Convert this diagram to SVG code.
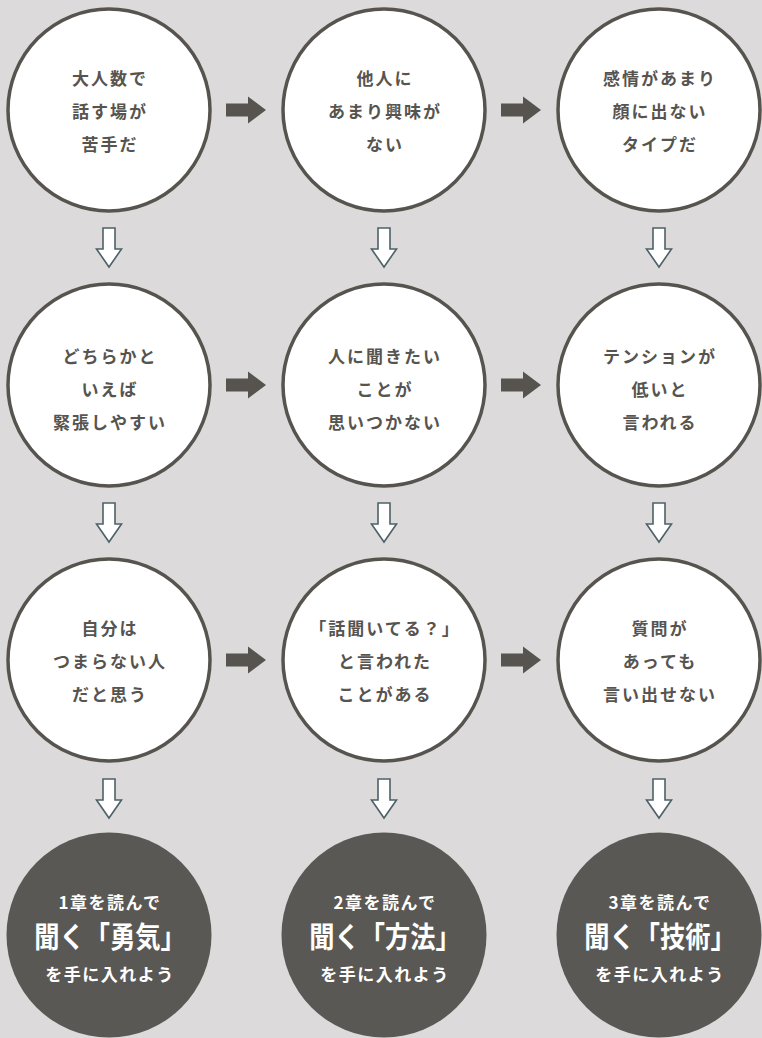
<svg xmlns="http://www.w3.org/2000/svg" width="762" height="1038" viewBox="0 0 762 1038">
<defs>
<style>
.c{fill:#ffffff;stroke:#57544f;stroke-width:3.5}
.d{fill:#5a5854}
.t{font-family:"Noto Sans CJK JP","Noto Sans",sans-serif;font-weight:700;font-size:17px;fill:#57544f;text-anchor:middle;letter-spacing:2px}
.w{font-family:"Noto Sans CJK JP","Noto Sans",sans-serif;font-weight:700;fill:#ffffff;text-anchor:middle}
.s{font-size:17px;letter-spacing:1.5px}
.b{font-size:29px}
.ra{fill:#57544f}
.da{fill:#ffffff;stroke:#4d6268;stroke-width:1.6;stroke-linejoin:miter}
</style>
<path id="rarr" d="M0,-6.5 H22 V-13.5 L40,0 L22,13.5 V6.5 H0 Z"/>
<path id="darr" d="M-6,0 H6 V21 H12.5 L0,39 L-12.5,21 H-6 Z"/>
</defs>
<rect width="762" height="1038" fill="#dcdada"/>
<g id="connectors">
<use href="#rarr" class="ra" x="226" y="110"/>
<use href="#rarr" class="ra" x="501" y="110"/>
<use href="#rarr" class="ra" x="226" y="385"/>
<use href="#rarr" class="ra" x="501" y="385"/>
<use href="#rarr" class="ra" x="226" y="660"/>
<use href="#rarr" class="ra" x="501" y="660"/>
<use href="#darr" class="da" x="109" y="228"/>
<use href="#darr" class="da" x="384" y="228"/>
<use href="#darr" class="da" x="659" y="228"/>
<use href="#darr" class="da" x="109" y="503"/>
<use href="#darr" class="da" x="384" y="503"/>
<use href="#darr" class="da" x="659" y="503"/>
<use href="#darr" class="da" x="109" y="779"/>
<use href="#darr" class="da" x="384" y="779"/>
<use href="#darr" class="da" x="659" y="779"/>
</g>
<g id="n1">
<circle class="c" cx="109" cy="110" r="101"/>
<text class="t" x="110" y="85">大人数で</text>
<text class="t" x="110" y="118">話す場が</text>
<text class="t" x="110" y="151">苦手だ</text>
</g>
<g id="n2">
<circle class="c" cx="384" cy="110" r="101"/>
<text class="t" x="385" y="85">他人に</text>
<text class="t" x="385" y="118">あまり興味が</text>
<text class="t" x="385" y="151">ない</text>
</g>
<g id="n3">
<circle class="c" cx="659" cy="110" r="101"/>
<text class="t" x="660" y="85">感情があまり</text>
<text class="t" x="660" y="118">顔に出ない</text>
<text class="t" x="660" y="151">タイプだ</text>
</g>
<g id="n4">
<circle class="c" cx="109" cy="385" r="101"/>
<text class="t" x="110" y="363">どちらかと</text>
<text class="t" x="110" y="396">いえば</text>
<text class="t" x="110" y="429">緊張しやすい</text>
</g>
<g id="n5">
<circle class="c" cx="384" cy="385" r="101"/>
<text class="t" x="385" y="363">人に聞きたい</text>
<text class="t" x="385" y="396">ことが</text>
<text class="t" x="385" y="429">思いつかない</text>
</g>
<g id="n6">
<circle class="c" cx="659" cy="385" r="101"/>
<text class="t" x="660" y="363">テンションが</text>
<text class="t" x="660" y="396">低いと</text>
<text class="t" x="660" y="429">言われる</text>
</g>
<g id="n7">
<circle class="c" cx="109" cy="660" r="101"/>
<text class="t" x="110" y="635">自分は</text>
<text class="t" x="110" y="668">つまらない人</text>
<text class="t" x="110" y="701">だと思う</text>
</g>
<g id="n8">
<circle class="c" cx="384" cy="660" r="101"/>
<text class="t" x="385" y="635">「話聞いてる？」</text>
<text class="t" x="385" y="668">と言われた</text>
<text class="t" x="385" y="701">ことがある</text>
</g>
<g id="n9">
<circle class="c" cx="659" cy="660" r="101"/>
<text class="t" x="660" y="635">質問が</text>
<text class="t" x="660" y="668">あっても</text>
<text class="t" x="660" y="701">言い出せない</text>
</g>
<g id="n10">
<circle class="d" cx="109" cy="935" r="102.5"/>
<text class="w s" x="110" y="909">1章を読んで</text>
<text class="w b" transform="translate(110,948) scale(0.87,1)">聞く「勇気」</text>
<text class="w s" x="110" y="981">を手に入れよう</text>
</g>
<g id="n11">
<circle class="d" cx="384" cy="935" r="102.5"/>
<text class="w s" x="385" y="909">2章を読んで</text>
<text class="w b" transform="translate(385,948) scale(0.87,1)">聞く「方法」</text>
<text class="w s" x="385" y="981">を手に入れよう</text>
</g>
<g id="n12">
<circle class="d" cx="659" cy="935" r="102.5"/>
<text class="w s" x="660" y="909">3章を読んで</text>
<text class="w b" transform="translate(660,948) scale(0.87,1)">聞く「技術」</text>
<text class="w s" x="660" y="981">を手に入れよう</text>
</g>
</svg>
